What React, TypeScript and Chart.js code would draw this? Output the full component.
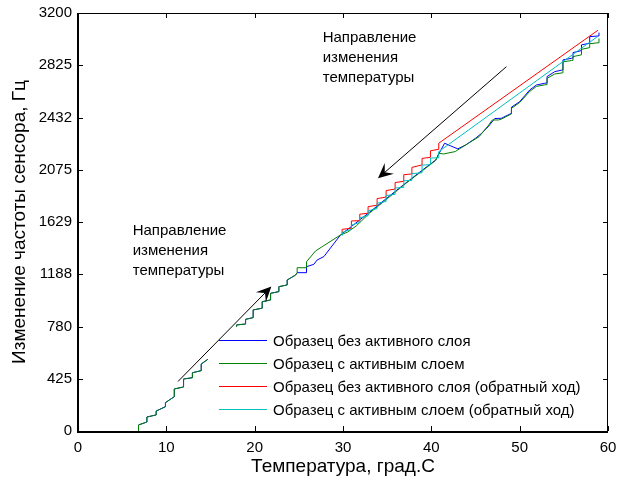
import React, { useEffect, useRef } from 'react';
import { Chart, registerables } from 'chart.js';

Chart.register(...registerables);

// ---------- data ----------
const xTickValues = [0, 10, 20, 30, 40, 50, 60];
const yTickLabels = ['0', '425', '780', '1188', '1629', '2075', '2432', '2825', '3200'];

const legendLabels = [
  'Образец без активного слоя',
  'Образец с активным слоем',
  'Образец без активного слоя (обратный ход)',
  'Образец с активным слоем (обратный ход)',
];
const seriesColors = ['rgb(0,0,255)', 'rgb(0,128,0)', 'rgb(255,0,0)', 'rgb(0,191,191)'];

const forwardCommon: [number, number][] = [
  [6.85, 0], [6.85, 46], [7.8, 69], [7.8, 107], [8.85, 123], [8.85, 153], [9.9, 186], [9.9, 217],
  [10.9, 263], [10.9, 322], [11.95, 337], [11.95, 398], [12.95, 408], [12.95, 446], [13.95, 462],
  [13.95, 513], [14.6, 544], [14.9, 560], [14.9, 610], [15.9, 625], [15.9, 690], [16.9, 705],
  [16.9, 760], [17.95, 790], [17.95, 812], [18.97, 819], [18.97, 855], [19.83, 868], [19.83, 927],
  [20.85, 940], [20.85, 990], [21.8, 1003], [21.8, 1054], [22.74, 1067], [22.74, 1105],
  [23.68, 1118], [23.68, 1156], [24.63, 1194], [24.81, 1212],
];

const sampleNoLayer: [number, number][] = [
  ...forwardCommon,
  [25.87, 1212], [25.87, 1258], [26.7, 1276], [27.07, 1309], [27.83, 1335], [29.72, 1501],
  [31, 1568], [33, 1675], [35, 1785], [37, 1893], [39, 1998], [40.5, 2075], [40.84, 2120],
  [41.5, 2203], [42.2, 2182], [43.0, 2160], [43.9, 2190], [45, 2241], [45.7, 2279], [46.5, 2335],
  [47.17, 2392], [47.93, 2394], [49.07, 2432], [49.07, 2479], [50.0, 2521], [51.14, 2611],
  [51.9, 2649], [52.84, 2662], [53.1, 2665], [53.1, 2713], [53.97, 2751], [54.84, 2764],
  [54.9, 2766], [54.9, 2841], [55.86, 2853], [56.04, 2856], [56.04, 2897], [57.0, 2912],
  [57.0, 2956], [57.93, 2969], [57.93, 3019], [58.87, 3024], [58.98, 3024], [58.98, 3050],
];

const sampleWithLayer: [number, number][] = [
  ...forwardCommon,
  [24.81, 1250], [25.87, 1250], [25.87, 1296], [26.89, 1378], [27.64, 1411], [29.72, 1501],
  [30.5, 1522], [31.5, 1570], [33, 1668], [35, 1778], [37, 1890], [39, 1993], [40.5, 2072],
  [40.84, 2126], [41.4, 2121], [42.7, 2139], [44.2, 2203], [45.4, 2253], [46.5, 2343],
  [46.9, 2381], [47.6, 2381], [47.93, 2388], [49.07, 2428], [49.07, 2470], [50.0, 2515],
  [51.14, 2600], [51.9, 2638], [52.84, 2650], [53.1, 2652], [53.1, 2700], [53.97, 2733],
  [54.84, 2742], [54.9, 2744], [54.9, 2826], [55.86, 2836], [56.04, 2838], [56.04, 2866],
  [57.0, 2880], [57.0, 2922], [57.93, 2935], [57.93, 2965], [58.87, 2972], [58.98, 2975],
  [58.98, 3005],
];

const sampleNoLayerReverse: [number, number][] = [
  [29.9, 1515], [29.9, 1544], [30.95, 1552], [30.95, 1608], [31.9, 1610], [31.9, 1660],
  [32.84, 1667], [32.84, 1717], [33.86, 1729], [33.86, 1779], [34.88, 1791], [34.88, 1841],
  [35.9, 1852], [35.9, 1902], [36.88, 1912], [36.88, 1962], [37.8, 1968], [37.8, 2018],
  [38.95, 2037], [38.95, 2087], [39.9, 2095], [39.9, 2145], [40.84, 2157], [40.84, 2203],
  [58.86, 3068],
];

const sampleWithLayerReverse: [number, number][] = [
  [29.9, 1495], [29.9, 1520], [30.95, 1544], [30.95, 1576], [31.9, 1597], [31.9, 1632],
  [32.84, 1648], [32.84, 1686], [33.86, 1703], [33.86, 1744], [34.88, 1758], [34.88, 1802],
  [35.9, 1812], [35.9, 1860], [36.88, 1865], [36.88, 1916], [37.8, 1918], [37.8, 1970],
  [38.95, 1977], [38.95, 2035], [39.9, 2040], [39.9, 2089], [40.84, 2092], [40.84, 2139],
  [58.86, 3022],
];

// annotations (data coordinates)
const annotationText = ['Направление', 'изменения', 'температуры'];
const topTextAnchor: [number, number] = [27.7, 2979];
const leftTextAnchor: [number, number] = [6.19, 1501];
const arrowDown: [[number, number], [number, number]] = [[48.5, 2789], [33.96, 1935]];
const arrowUp: [[number, number], [number, number]] = [[11.32, 379], [21.89, 1106]];

const FONT = '"Liberation Sans", Arial, Helvetica, sans-serif';

const overlayPlugin = {
  id: 'overlay',
  afterDatasetsDraw(chart: any) {
    const { ctx, chartArea: ca, scales } = chart;
    const xs = scales.x;
    const ys = scales.y;
    ctx.save();

    // legend (white box covering data)
    const lx = ca.left + 130;
    const ly = ca.top + 314;
    const lw = ca.right - 1 - lx;
    const lh = 98;
    ctx.fillStyle = '#ffffff';
    ctx.fillRect(lx, ly, lw, lh);
    ctx.font = `15px ${FONT}`;
    ctx.textAlign = 'left';
    ctx.textBaseline = 'middle';
    legendLabels.forEach((lab, i) => {
      const y = Math.round(ly + 13 + i * 23) + 0.5;
      ctx.strokeStyle = seriesColors[i];
      ctx.lineWidth = 1;
      ctx.beginPath();
      ctx.moveTo(lx + 11, y);
      ctx.lineTo(lx + 59, y);
      ctx.stroke();
      ctx.fillStyle = '#000';
      ctx.fillText(lab, lx + 65, y + 1);
    });

    // frame
    ctx.strokeStyle = '#000';
    ctx.lineWidth = 1;
    ctx.beginPath();
    ctx.moveTo(ca.left, ca.top + 0.5);
    ctx.lineTo(ca.right, ca.top + 0.5);
    ctx.moveTo(ca.right - 0.5, ca.top);
    ctx.lineTo(ca.right - 0.5, ca.bottom);
    ctx.stroke();
    ctx.lineWidth = 2;
    ctx.beginPath();
    ctx.moveTo(ca.left, ca.top);
    ctx.lineTo(ca.left, ca.bottom + 1);
    ctx.lineTo(ca.right, ca.bottom + 1);
    ctx.stroke();

    // inward ticks
    ctx.lineWidth = 1;
    ctx.beginPath();
    xTickValues.forEach((v) => {
      const px = Math.round(xs.getPixelForValue(v)) + 0.5;
      ctx.moveTo(px, ca.bottom);
      ctx.lineTo(px, ca.bottom - 5);
      ctx.moveTo(px, ca.top);
      ctx.lineTo(px, ca.top + 5);
    });
    yTickLabels.forEach((_, i) => {
      const py = Math.round(ys.getPixelForValue(i * 400)) + 0.5;
      ctx.moveTo(ca.left, py);
      ctx.lineTo(ca.left + 5, py);
      ctx.moveTo(ca.right, py);
      ctx.lineTo(ca.right - 5, py);
    });
    ctx.stroke();

    // annotation texts
    ctx.fillStyle = '#000';
    ctx.font = `15px ${FONT}`;
    ctx.textBaseline = 'alphabetic';
    ctx.textAlign = 'left';
    const drawText = (anchor: [number, number]) => {
      const px = xs.getPixelForValue(anchor[0]);
      const py = ys.getPixelForValue(anchor[1]);
      annotationText.forEach((t, i) => ctx.fillText(t, px, py + i * 20));
    };
    drawText(topTextAnchor);
    drawText(leftTextAnchor);

    // arrows
    const drawArrow = (a: [[number, number], [number, number]]) => {
      const x0 = xs.getPixelForValue(a[0][0]);
      const y0 = ys.getPixelForValue(a[0][1]);
      const x1 = xs.getPixelForValue(a[1][0]);
      const y1 = ys.getPixelForValue(a[1][1]);
      const ang = Math.atan2(y1 - y0, x1 - x0);
      const L = 15;
      const W = 7;
      const ux = Math.cos(ang);
      const uy = Math.sin(ang);
      ctx.strokeStyle = '#000';
      ctx.lineWidth = 1;
      ctx.beginPath();
      ctx.moveTo(x0, y0);
      ctx.lineTo(x1 - ux * L * 0.6, y1 - uy * L * 0.6);
      ctx.stroke();
      ctx.fillStyle = '#000';
      ctx.beginPath();
      ctx.moveTo(x1, y1);
      ctx.lineTo(x1 - ux * L - uy * W, y1 - uy * L + ux * W);
      ctx.lineTo(x1 - ux * L * 0.6, y1 - uy * L * 0.6);
      ctx.lineTo(x1 - ux * L + uy * W, y1 - uy * L - ux * W);
      ctx.closePath();
      ctx.fill();
    };
    drawArrow(arrowDown);
    drawArrow(arrowUp);

    // axis titles
    ctx.font = `19px ${FONT}`;
    ctx.textAlign = 'center';
    ctx.textBaseline = 'middle';
    ctx.fillText('Температура, град.С', (ca.left + ca.right) / 2, 467);
    ctx.save();
    ctx.translate(20, (ca.top + ca.bottom) / 2);
    ctx.rotate(-Math.PI / 2);
    ctx.fillText('Изменение частоты сенсора, Гц', 0, 0);
    ctx.restore();

    ctx.restore();
  },
};

export default function App() {
  const ref = useRef<HTMLCanvasElement | null>(null);
  useEffect(() => {
    document.body.style.margin = '0';
    const canvas = ref.current;
    if (!canvas) return;
    const mk = (label: string, data: [number, number][], color: string, order: number) => ({
      label,
      data: data.map(([x, y]) => ({ x, y })),
      borderColor: color,
      backgroundColor: color,
      borderWidth: 1,
      pointRadius: 0,
      tension: 0,
      fill: false,
      order,
    });
    const chart = new Chart(canvas, {
      type: 'line',
      data: {
        datasets: [
          mk(legendLabels[0], sampleNoLayer, seriesColors[0], 4),
          mk(legendLabels[1], sampleWithLayer, seriesColors[1], 3),
          mk(legendLabels[2], sampleNoLayerReverse, seriesColors[2], 2),
          mk(legendLabels[3], sampleWithLayerReverse, seriesColors[3], 1),
        ],
      },
      options: {
        responsive: false,
        animation: false,
        devicePixelRatio: 1,
        layout: { padding: { top: 13, right: 9, left: 0, bottom: 0 } },
        plugins: { legend: { display: false }, tooltip: { enabled: false }, title: { display: false } },
        scales: {
          x: {
            type: 'linear',
            min: 0,
            max: 60,
            grid: { display: false, drawTicks: false },
            border: { display: false },
            ticks: {
              stepSize: 10,
              padding: 8,
              color: '#000',
              font: { family: FONT, size: 15 },
              maxRotation: 0,
            },
            afterFit: (s: any) => {
              s.height = 52;
              s.paddingLeft = 0;
              s.paddingRight = 0;
            },
          },
          y: {
            type: 'linear',
            min: 0,
            max: 3200,
            grid: { display: false, drawTicks: false },
            border: { display: false },
            ticks: {
              stepSize: 400,
              padding: 6,
              color: '#000',
              font: { family: FONT, size: 15 },
              callback: (v: any) => yTickLabels[Math.round(Number(v) / 400)] ?? '',
            },
            afterFit: (s: any) => {
              s.width = 78;
              s.paddingTop = 0;
              s.paddingBottom = 0;
            },
          },
        },
      },
      plugins: [overlayPlugin],
    });
    return () => chart.destroy();
  }, []);
  return <canvas ref={ref} width={617} height={483} style={{ display: 'block' }} />;
}
